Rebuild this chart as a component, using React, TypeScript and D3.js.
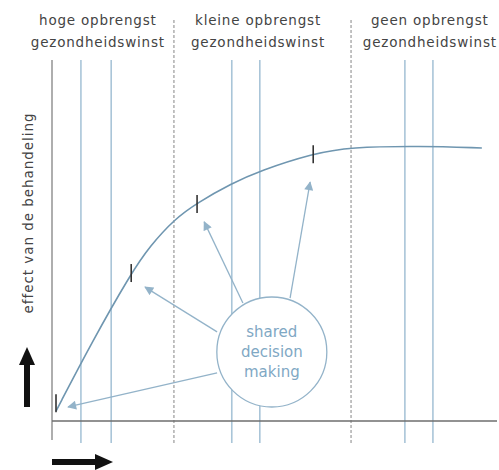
import React from "react";
import * as d3 from "d3";

const curveX = [0.9, 9.0, 17.8, 22.0, 27.6, 32.6, 40.4, 46.7, 58.7, 67.0, 82.7, 96.6];
const curveY = [3.6, 28.8, 53.8, 63.6, 73.5, 79.3, 86.4, 91.0, 97.3, 99.6, 100, 99.3];
const solidLinesX = [6.5, 13.3, 40.4, 46.7, 79.3, 85.6];
const dashedLinesX = [27.4, 67.2];
const tickX = [0.9, 17.8, 32.6, 58.7];
const tickY = [6.5, 53.8, 78.9, 97.0];
const headerX = [10.3, 46.3, 84.9];
const headerLine1 = ["hoge opbrengst", "kleine opbrengst", "geen opbrengst"];
const headerLine2 = ["gezondheidswinst", "gezondheidswinst", "gezondheidswinst"];
const bubbleCenter = { x: 49.4, y: 25.1 };
const bubbleLabel = ["shared", "decision", "making"];
const arrowFrom = [
  [37.1, 17.5],
  [37.1, 32.4],
  [42.9, 42.9],
  [53.5, 44.7],
];
const arrowTo = [
  [3.6, 5.1],
  [20.9, 48.7],
  [34.2, 72.4],
  [58.0, 86.9],
];
const yLabel = "effect van de behandeling";

export default function App() {
  const W = 499, H = 470;
  const x = d3.scaleLinear().domain([0, 100]).range([52, 497]);
  const y = d3.scaleLinear().domain([0, 100]).range([421, 146]);
  const line = d3
    .line<number>()
    .x((_, i) => x(curveX[i]))
    .y((d) => y(d))
    .curve(d3.curveBasis);
  const font = "'DejaVu Sans', sans-serif";
  const blue = "#a9c5d8";
  const arrowBlue = "#93b3c9";
  const cx = x(bubbleCenter.x), cy = y(bubbleCenter.y);

  return (
    <svg width={W} height={H} style={{ position: "absolute", left: 0, top: 0, background: "#fff" }}>
      <defs>
        <marker id="ah" viewBox="0 0 10 10" refX="9" refY="5" markerWidth="10" markerHeight="9" markerUnits="userSpaceOnUse" orient="auto">
          <path d="M0,0 L10,5 L0,10 z" fill={arrowBlue} />
        </marker>
      </defs>
      {solidLinesX.map((v, i) => (
        <line key={"s" + i} x1={x(v)} x2={x(v)} y1={60} y2={443} stroke={blue} strokeWidth={1.6} />
      ))}
      {dashedLinesX.map((v, i) => (
        <line key={"d" + i} x1={x(v)} x2={x(v)} y1={20} y2={443} stroke="#9a9a9a" strokeWidth={1.2} strokeDasharray="3,2" />
      ))}
      {/* axes */}
      <line x1={x(0)} x2={x(0)} y1={60} y2={440} stroke="#9a9a9a" strokeWidth={1.6} />
      <line x1={x(0)} x2={497} y1={y(0)} y2={y(0)} stroke="#6e6e6e" strokeWidth={1.4} />
      {/* curve */}
      <path d={line(curveY) || ""} fill="none" stroke="#6f96b0" strokeWidth={1.6} />
      {tickX.map((v, i) => (
        <line key={"t" + i} x1={x(v)} x2={x(v)} y1={y(tickY[i]) - 9} y2={y(tickY[i]) + 9} stroke="#333" strokeWidth={1.6} />
      ))}
      {/* arrows */}
      {arrowFrom.map((f, i) => (
        <line key={"a" + i} x1={x(f[0])} y1={y(f[1])} x2={x(arrowTo[i][0])} y2={y(arrowTo[i][1])} stroke={arrowBlue} strokeWidth={1.3} markerEnd="url(#ah)" />
      ))}
      <circle cx={cx} cy={cy} r={55} fill="#fff" stroke={arrowBlue} strokeWidth={1.3} />
      {bubbleLabel.map((t, i) => (
        <text key={"b" + i} x={cx} y={cy + (i - 1) * 20} textAnchor="middle" dominantBaseline="central" fontFamily={font} fontSize={15} fill="#7fa8c4">
          {t}
        </text>
      ))}
      {/* headers */}
      {headerX.map((v, i) => (
        <g key={"h" + i}>
          <text x={x(v)} y={20} textAnchor="middle" dominantBaseline="central" fontFamily={font} fontSize={13.5} letterSpacing={0.8} fill="#444">
            {headerLine1[i]}
          </text>
          <text x={x(v)} y={42} textAnchor="middle" dominantBaseline="central" fontFamily={font} fontSize={13.5} letterSpacing={0.8} fill="#444">
            {headerLine2[i]}
          </text>
        </g>
      ))}
      {/* y label */}
      <text transform={`translate(28,213) rotate(-90)`} textAnchor="middle" dominantBaseline="central" fontFamily={font} fontSize={13.5} letterSpacing={0.95} fill="#444">
        {yLabel}
      </text>
      {/* black arrows */}
      <line x1={27} x2={27} y1={407} y2={362} stroke="#111" strokeWidth={6} />
      <path d="M19,365 L27,347 L35,365 z" fill="#111" />
      <line x1={52} x2={98} y1={462} y2={462} stroke="#111" strokeWidth={6} />
      <path d="M95,454 L113,462 L95,470 z" fill="#111" />
    </svg>
  );
}
